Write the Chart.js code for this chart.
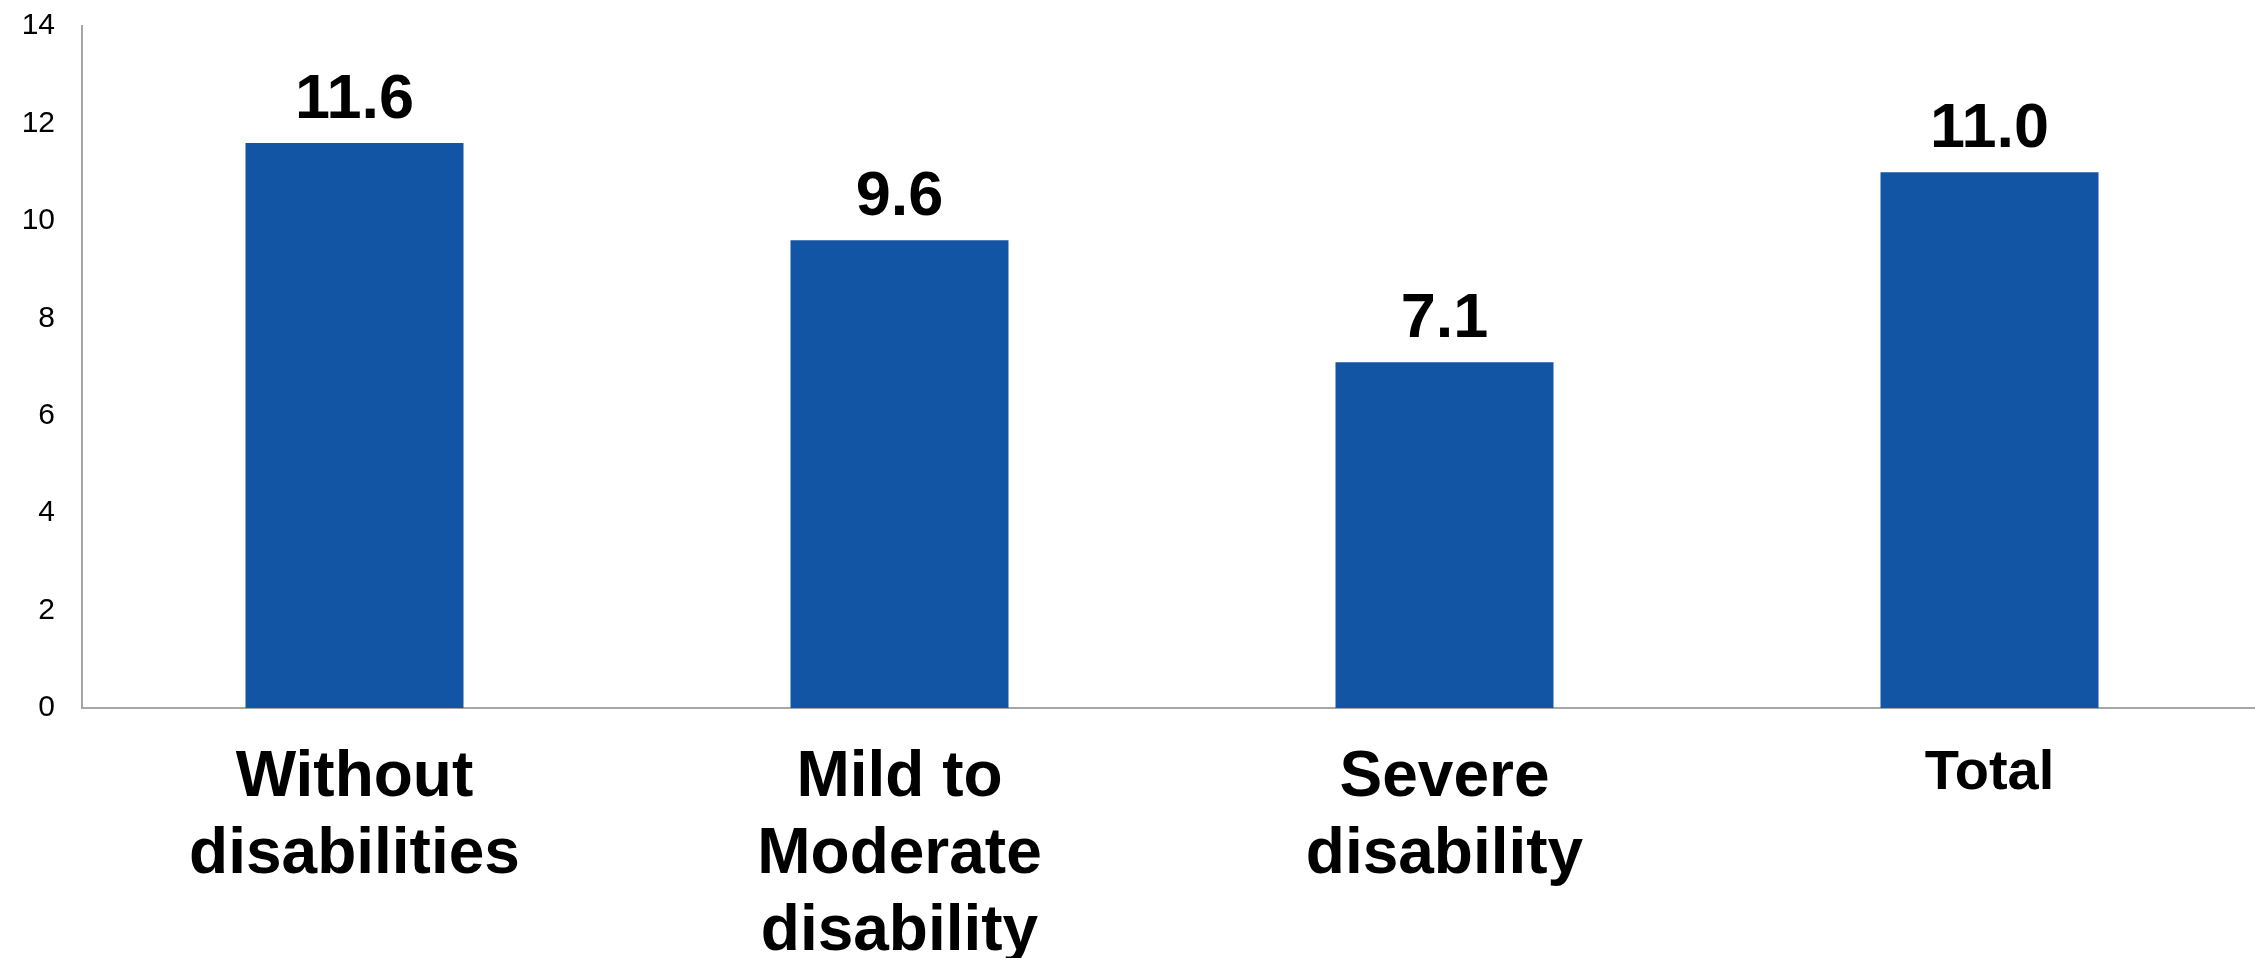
<!DOCTYPE html>
<html>
<head>
<meta charset="utf-8">
<script src="https://cdn.jsdelivr.net/npm/chart.js@4/dist/chart.umd.min.js"></script>
<style>
  html, body { margin: 0; padding: 0; background: #fff; overflow: hidden; }
  #wrap { width: 2262px; height: 958px; position: relative; }
</style>
</head>
<body>
<div id="wrap"><canvas id="chart"></canvas></div>
<script>
// chart data
const categories = [['Without', 'disabilities'], ['Mild to', 'Moderate', 'disability'], ['Severe', 'disability'], 'Total'];
const values = [11.6, 9.6, 7.1, 11.0];
const valueLabels = ['11.6', '9.6', '7.1', '11.0'];
const labelSizes = [64, 64, 64, 56];
const yMin = 0;
const yMax = 14;
const yStep = 2;

const barColor = '#1255a4';
const axisColor = '#a6a6a6';

// draws the numbers above each bar
const valueLabelPlugin = {
  id: 'valueLabels',
  afterDatasetsDraw(chart) {
    const ctx = chart.ctx;
    const meta = chart.getDatasetMeta(0);
    ctx.save();
    ctx.fillStyle = '#000';
    ctx.font = 'bold 63px "Liberation Sans", Arial, sans-serif';
    ctx.textAlign = 'center';
    ctx.textBaseline = 'alphabetic';
    meta.data.forEach((bar, i) => {
      ctx.fillText(valueLabels[i], bar.x, bar.y - 25);
    });
    ctx.restore();
  }
};

new Chart(document.getElementById('chart'), {
  type: 'bar',
  data: {
    labels: categories,
    datasets: [{
      data: values,
      backgroundColor: barColor,
      borderWidth: 0,
      barPercentage: 0.4,
      categoryPercentage: 1.0
    }]
  },
  options: {
    responsive: true,
    maintainAspectRatio: false,
    animation: false,
    devicePixelRatio: 1,
    layout: { padding: { top: 26, right: 0, left: 0, bottom: 0 } },
    plugins: {
      legend: { display: false },
      title: { display: false },
      tooltip: { enabled: false }
    },
    scales: {
      x: {
        grid: { display: false },
        border: { color: axisColor, width: 2 },
        ticks: {
          color: '#000',
          padding: 24,
          maxRotation: 0,
          autoSkip: false,
          font: (c) => ({
            family: '"Liberation Sans", Arial, sans-serif',
            weight: 'bold',
            size: labelSizes[c.index] || 64,
            lineHeight: 1.2
          })
        },
        afterFit(scale) {
          scale.height = 250;
          scale.paddingLeft = 0;
          scale.paddingRight = 0;
        }
      },
      y: {
        min: yMin,
        max: yMax,
        grid: { display: false },
        border: { color: axisColor, width: 2 },
        ticks: {
          stepSize: yStep,
          color: '#000',
          padding: 19,
          font: { family: '"Liberation Sans", Arial, sans-serif', size: 30 }
        },
        afterFit(scale) {
          scale.width = 82;
          scale.paddingTop = 0;
          scale.paddingBottom = 0;
        }
      }
    }
  },
  plugins: [valueLabelPlugin]
});
</script>
</body>
</html>
